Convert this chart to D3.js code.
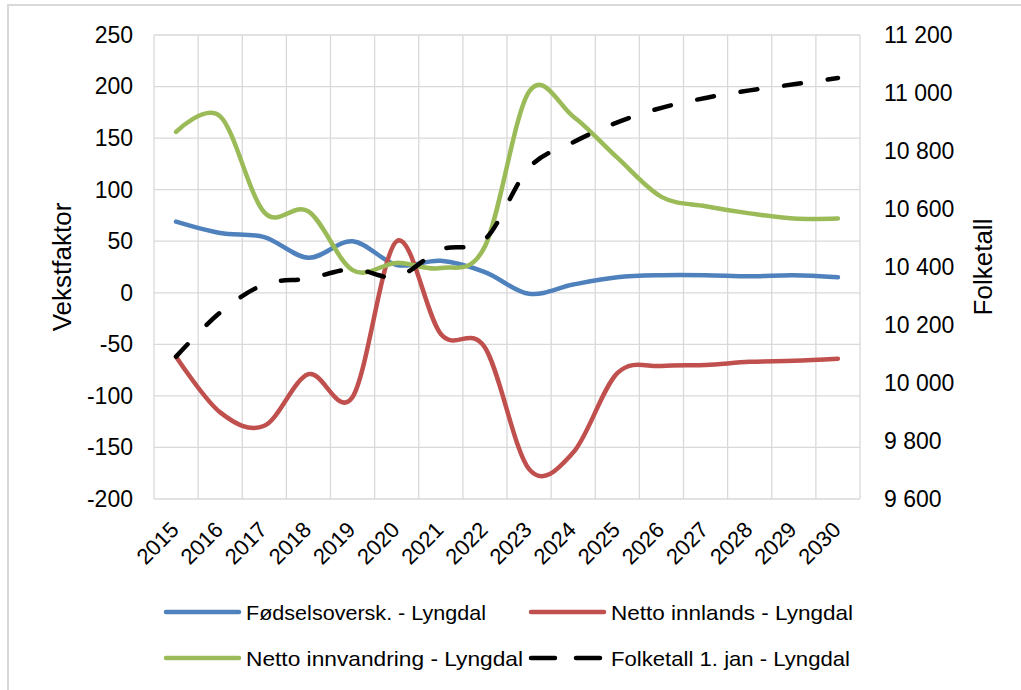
<!DOCTYPE html>
<head>
    <meta charset="UTF-8">
    <title>Vekstfaktor - Lyngdal</title>
</head>
<style>
    body { margin: 0; background: #fff; }
    text { font-family: "Liberation Sans", Arial, sans-serif; fill: #000; }
    .grid line { stroke: #d9d9d9; stroke-width: 1.3; }
    .axis .domain, .axis .tick line { display: none; }
</style>
<body>
<script src="https://d3js.org/d3.v7.min.js"></script>
<script>
    // years on the x axis
    var years = ["2015", "2016", "2017", "2018", "2019", "2020", "2021", "2022",
                 "2023", "2024", "2025", "2026", "2027", "2028", "2029", "2030"];

    // left axis series (Vekstfaktor)
    var fodselsoverskudd = [69, 58, 54, 34, 50, 27, 31, 20, -1, 8, 15, 17, 17, 16, 17, 15];
    var nettoInnlands = [-62, -116, -129, -79, -101, 50, -40, -53, -171, -155, -78, -71, -70, -67, -66, -64];
    var nettoInnvandring = [156, 171, 78, 79, 22, 29, 24, 45, 195, 171, 131, 93, 84, 77, 72, 72];

    // right axis series (Folketall)
    var folketall = [10091, 10243, 10340, 10360, 10393, 10366, 10460, 10495,
                     10742, 10830, 10899, 10949, 10983, 11009, 11030, 11052];

    var leftTicks = [-200, -150, -100, -50, 0, 50, 100, 150, 200, 250];
    var rightTicks = [9600, 9800, 10000, 10200, 10400, 10600, 10800, 11000, 11200];

    var series = [
        {name: "Fødselsoversk. - Lyngdal", values: fodselsoverskudd, color: "#4f81bd", axis: "left"},
        {name: "Netto innlands - Lyngdal", values: nettoInnlands, color: "#c0504d", axis: "left"},
        {name: "Netto innvandring - Lyngdal", values: nettoInnvandring, color: "#9bbb59", axis: "left"},
        {name: "Folketall 1. jan - Lyngdal", values: folketall, color: "#000", axis: "right", dashed: true}
    ];

    var width = 1021, height = 690;
    var plot = {left: 154, right: 860, top: 35, bottom: 499};

    var svg = d3.select("body").append("svg")
        .attr("width", width)
        .attr("height", height);

    // outer chart border
    svg.append("rect")
        .attr("x", 8).attr("y", 5)
        .attr("width", 1040).attr("height", 720)
        .attr("fill", "none")
        .attr("stroke", "#d9d9d9")
        .attr("stroke-width", 2);

    var x = d3.scaleBand()
        .domain(years)
        .range([plot.left, plot.right])
        .padding(0);

    var yLeft = d3.scaleLinear()
        .domain([-200, 250])
        .range([plot.bottom, plot.top]);

    var yRight = d3.scaleLinear()
        .domain([9600, 11200])
        .range([plot.bottom, plot.top]);

    // norwegian style numbers: space as thousands separator, plain hyphen minus
    var nb = d3.formatLocale({decimal: ",", thousands: " ", grouping: [3], currency: ["", " kr"], minus: "-"});

    // grid
    var grid = svg.append("g").attr("class", "grid");
    grid.selectAll(".h").data(leftTicks).enter().append("line")
        .attr("x1", plot.left).attr("x2", plot.right)
        .attr("y1", function(d) { return yLeft(d); })
        .attr("y2", function(d) { return yLeft(d); });
    grid.selectAll(".v").data(years.map(function(d) { return x(d); }).concat([plot.right]))
        .enter().append("line")
        .attr("x1", function(d) { return d; }).attr("x2", function(d) { return d; })
        .attr("y1", plot.top).attr("y2", plot.bottom);

    // left axis
    svg.append("g")
        .attr("class", "axis")
        .attr("transform", "translate(" + (plot.left - 21) + ",0)")
        .call(d3.axisLeft(yLeft).tickValues(leftTicks).tickSize(0).tickPadding(0)
            .tickFormat(nb.format("d")))
        .selectAll("text")
        .style("font-size", "23px");

    // right axis
    svg.append("g")
        .attr("class", "axis")
        .attr("transform", "translate(" + (plot.right + 24) + ",0)")
        .call(d3.axisRight(yRight).tickValues(rightTicks).tickSize(0).tickPadding(0)
            .tickFormat(nb.format(",")))
        .selectAll("text")
        .style("font-size", "23px");

    // x axis labels, rotated
    svg.append("g")
        .selectAll("text")
        .data(years)
        .enter().append("text")
        .attr("transform", function(d) {
            return "translate(" + (x(d) + x.bandwidth() / 2 - 7) + ",520) rotate(-45)";
        })
        .attr("text-anchor", "end")
        .attr("dy", "0.72em")
        .style("font-size", "22px")
        .text(function(d) { return d; });

    // axis titles
    svg.append("text")
        .attr("transform", "translate(70.5," + (plot.top + plot.bottom) / 2 + ") rotate(-90)")
        .attr("text-anchor", "middle")
        .style("font-size", "26px")
        .text("Vekstfaktor");

    svg.append("text")
        .attr("transform", "translate(991.5," + (plot.top + plot.bottom) / 2 + ") rotate(-90)")
        .attr("text-anchor", "middle")
        .style("font-size", "26px")
        .text("Folketall");

    // lines
    series.forEach(function(s) {
        var yScale = s.axis === "left" ? yLeft : yRight;
        var line = d3.line()
            .x(function(d, i) { return x(years[i]) + x.bandwidth() / 2; })
            .y(function(d) { return yScale(d); })
            .curve(d3.curveCardinal.tension(0));
        svg.append("path")
            .datum(s.values)
            .attr("fill", "none")
            .attr("stroke", s.color)
            .attr("stroke-width", 4.5)
            .attr("stroke-linecap", "round")
            .attr("stroke-linejoin", "round")
            .attr("stroke-dasharray", s.dashed ? "17,27" : null)
            .attr("d", line);
    });

    // legend, two rows of two
    var legendPos = [
        {x: 166, y: 612, w: 240},
        {x: 531, y: 612, w: 242},
        {x: 166, y: 658, w: 277},
        {x: 531, y: 658, w: 239}
    ];
    var legend = svg.append("g").attr("class", "legend");
    series.forEach(function(s, i) {
        var p = legendPos[i];
        var g = legend.append("g").attr("transform", "translate(" + p.x + "," + p.y + ")");
        if (s.dashed) {
            g.append("line").attr("x1", 0).attr("x2", 24).attr("y1", 0).attr("y2", 0)
                .attr("stroke", s.color).attr("stroke-width", 4.5).attr("stroke-linecap", "round");
            g.append("line").attr("x1", 45).attr("x2", 69).attr("y1", 0).attr("y2", 0)
                .attr("stroke", s.color).attr("stroke-width", 4.5).attr("stroke-linecap", "round");
        } else {
            g.append("line").attr("x1", 0).attr("x2", 73).attr("y1", 0).attr("y2", 0)
                .attr("stroke", s.color).attr("stroke-width", 4.5).attr("stroke-linecap", "round");
        }
        g.append("text")
            .attr("x", 80)
            .attr("dy", "0.36em")
            .attr("textLength", p.w)
            .attr("lengthAdjust", "spacingAndGlyphs")
            .style("font-size", "21px")
            .text(s.name);
    });
</script>
